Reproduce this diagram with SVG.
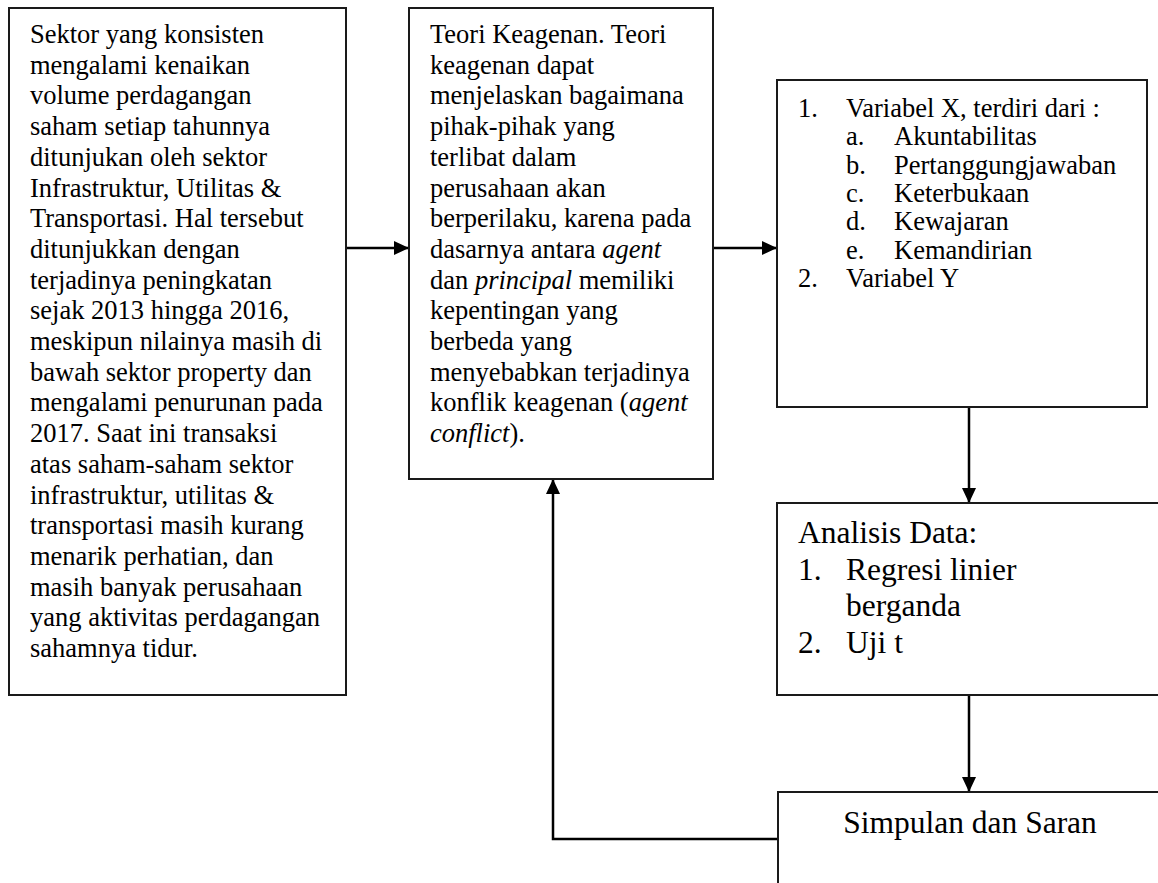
<svg xmlns="http://www.w3.org/2000/svg" width="1158" height="883" viewBox="0 0 1158 883">
<style>
.box{fill:#fff;stroke:#1a1a1a;stroke-width:2}
.t{font-family:"Liberation Serif","Times New Roman",serif;font-size:26.5px;fill:#000}
.tl{font-family:"Liberation Serif","Times New Roman",serif;font-size:31.5px;fill:#000}
.i{font-style:italic}
.c{fill:none;stroke:#000;stroke-width:2.5}
</style>
<defs>
<marker id="ah" markerUnits="userSpaceOnUse" markerWidth="16" markerHeight="14" refX="15" refY="7" orient="auto">
<path d="M0,0 L15,7 L0,14 z" fill="#000"/>
</marker>
</defs>
<rect width="1158" height="883" fill="#fff"/>
<g id="connectors">
<line class="c" x1="346" y1="248" x2="409" y2="248" marker-end="url(#ah)"/>
<line class="c" x1="713" y1="248" x2="777" y2="248" marker-end="url(#ah)"/>
<line class="c" x1="969" y1="407" x2="969" y2="503" marker-end="url(#ah)"/>
<line class="c" x1="969" y1="695" x2="969" y2="792" marker-end="url(#ah)"/>
<polyline class="c" points="778,839 553,839 553,479" marker-end="url(#ah)"/>
</g>
<g id="node-sektor">
<rect class="box" x="9" y="8" width="337" height="687"/>
<text class="t" x="30" y="43">
<tspan x="30" dy="0">Sektor yang konsisten</tspan>
<tspan x="30" dy="30.7">mengalami kenaikan</tspan>
<tspan x="30" dy="30.7">volume perdagangan</tspan>
<tspan x="30" dy="30.7">saham setiap tahunnya</tspan>
<tspan x="30" dy="30.7">ditunjukan oleh sektor</tspan>
<tspan x="30" dy="30.7">Infrastruktur, Utilitas &amp;</tspan>
<tspan x="30" dy="30.7">Transportasi. Hal tersebut</tspan>
<tspan x="30" dy="30.7">ditunjukkan dengan</tspan>
<tspan x="30" dy="30.7">terjadinya peningkatan</tspan>
<tspan x="30" dy="30.7">sejak 2013 hingga 2016,</tspan>
<tspan x="30" dy="30.7">meskipun nilainya masih di</tspan>
<tspan x="30" dy="30.7">bawah sektor property dan</tspan>
<tspan x="30" dy="30.7">mengalami penurunan pada</tspan>
<tspan x="30" dy="30.7">2017. Saat ini transaksi</tspan>
<tspan x="30" dy="30.7">atas saham-saham sektor</tspan>
<tspan x="30" dy="30.7">infrastruktur, utilitas &amp;</tspan>
<tspan x="30" dy="30.7">transportasi masih kurang</tspan>
<tspan x="30" dy="30.7">menarik perhatian, dan</tspan>
<tspan x="30" dy="30.7">masih banyak perusahaan</tspan>
<tspan x="30" dy="30.7">yang aktivitas perdagangan</tspan>
<tspan x="30" dy="30.7">sahamnya tidur.</tspan>
</text>
</g>
<g id="node-teori">
<rect class="box" x="409" y="8" width="304" height="471"/>
<text class="t" x="430" y="43">
<tspan x="430" dy="0">Teori Keagenan. Teori</tspan>
<tspan x="430" dy="30.7">keagenan dapat</tspan>
<tspan x="430" dy="30.7">menjelaskan bagaimana</tspan>
<tspan x="430" dy="30.7">pihak-pihak yang</tspan>
<tspan x="430" dy="30.7">terlibat dalam</tspan>
<tspan x="430" dy="30.7">perusahaan akan</tspan>
<tspan x="430" dy="30.7">berperilaku, karena pada</tspan>
<tspan x="430" dy="30.7">dasarnya antara <tspan class="i">agent</tspan></tspan>
<tspan x="430" dy="30.7">dan <tspan class="i">principal</tspan> memiliki</tspan>
<tspan x="430" dy="30.7">kepentingan yang</tspan>
<tspan x="430" dy="30.7">berbeda yang</tspan>
<tspan x="430" dy="30.7">menyebabkan terjadinya</tspan>
<tspan x="430" dy="30.7">konflik keagenan (<tspan class="i">agent</tspan></tspan>
<tspan x="430" dy="30.7"><tspan class="i">conflict</tspan>).</tspan>
</text>
</g>
<g id="node-variabel">
<rect class="box" x="777" y="80" width="370" height="327"/>
<text class="t">
<tspan x="798" y="117">1.</tspan><tspan x="846" y="117">Variabel X, terdiri dari :</tspan>
<tspan x="846" y="145">a.</tspan><tspan x="894" y="145">Akuntabilitas</tspan>
<tspan x="846" y="173.5">b.</tspan><tspan x="894" y="173.5">Pertanggungjawaban</tspan>
<tspan x="846" y="202">c.</tspan><tspan x="894" y="202">Keterbukaan</tspan>
<tspan x="846" y="230">d.</tspan><tspan x="894" y="230">Kewajaran</tspan>
<tspan x="846" y="258.5">e.</tspan><tspan x="894" y="258.5">Kemandirian</tspan>
<tspan x="798" y="287">2.</tspan><tspan x="846" y="287">Variabel Y</tspan>
</text>
</g>
<g id="node-analisis">
<rect class="box" x="777" y="503" width="385" height="192"/>
<text class="tl">
<tspan x="798" y="543">Analisis Data:</tspan>
<tspan x="798" y="579.5">1.</tspan><tspan x="846" y="579.5">Regresi linier</tspan>
<tspan x="846" y="616">berganda</tspan>
<tspan x="798" y="653">2.</tspan><tspan x="846" y="653">Uji t</tspan>
</text>
</g>
<g id="node-simpulan">
<rect class="box" x="778" y="792" width="384" height="120"/>
<text class="tl" x="970" y="833" text-anchor="middle">Simpulan dan Saran</text>
</g>
</svg>
